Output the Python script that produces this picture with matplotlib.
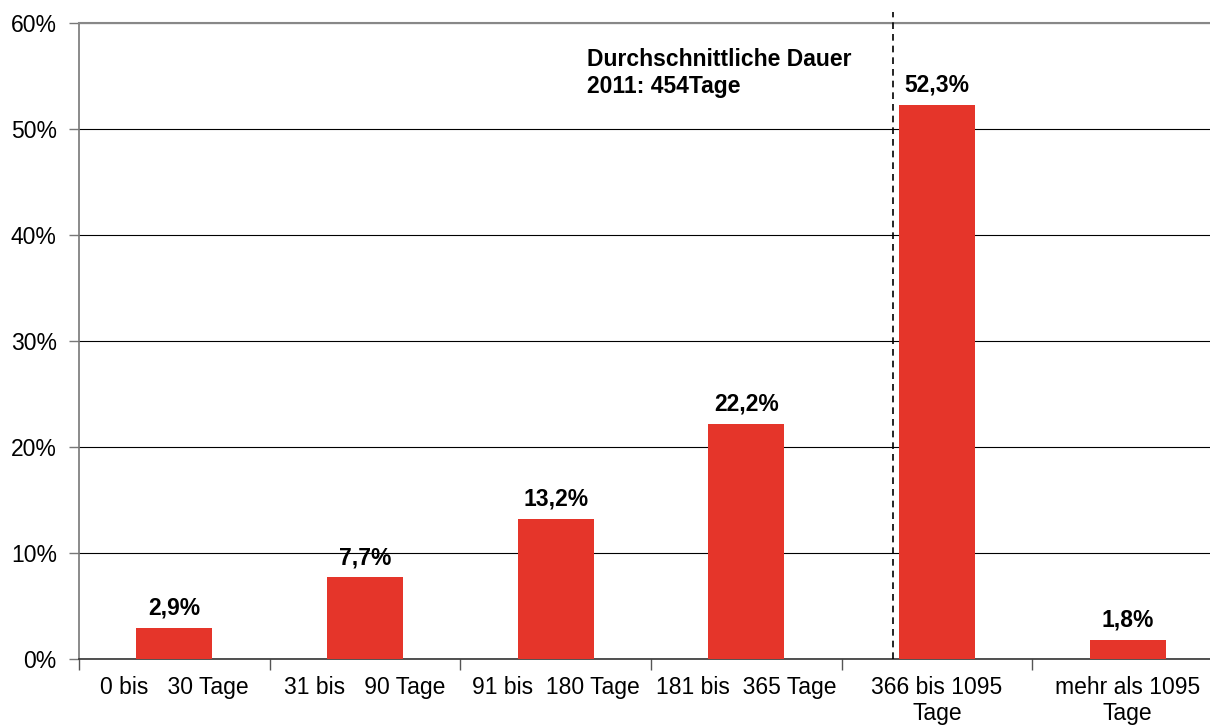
import matplotlib
matplotlib.use("Agg")
import matplotlib.pyplot as plt
from matplotlib.ticker import FixedLocator, NullFormatter

plt.rcParams["font.family"] = ["Liberation Sans", "DejaVu Sans"]

categories = ["0 bis   30 Tage", "31 bis   90 Tage", "91 bis  180 Tage",
              "181 bis  365 Tage", "366 bis 1095\nTage", "mehr als 1095\nTage"]
values = [2.9, 7.7, 13.2, 22.2, 52.3, 1.8]
value_labels = ["2,9%", "7,7%", "13,2%", "22,2%", "52,3%", "1,8%"]
yticks = [0, 10, 20, 30, 40, 50, 60]
avg_pos = 3.77
note = "Durchschnittliche Dauer\n2011: 454Tage"

BAR = "#E5352A"
FS = 16.5
W, H = 1210, 725
fig = plt.figure(figsize=(W / 100, H / 100), dpi=100)
ax = fig.add_axes([79 / W, 1 - 659 / H, 1144 / W, 636 / H])

x = list(range(len(categories)))
ax.bar(x, values, width=0.4, color=BAR, zorder=3)
for xi, v, lab in zip(x, values, value_labels):
    ax.annotate(lab, (xi, v), xytext=(0, 6), textcoords="offset points",
                ha="center", va="bottom", fontsize=FS, fontweight="bold")

ax.set_xlim(-0.5, len(categories) - 0.5)
ax.set_ylim(0, 60)
ax.set_yticks(yticks)
ax.set_yticklabels([f"{t}%" for t in yticks], fontsize=FS)
ax.yaxis.grid(True, color="black", linewidth=0.8, zorder=0)

ax.set_xticks(x)
ax.set_xticklabels(categories, fontsize=FS, linespacing=1.2)
ax.tick_params(axis="x", which="major", length=0, pad=12)
ax.xaxis.set_minor_locator(FixedLocator([i + 0.5 for i in range(-1, len(categories))]))
ax.xaxis.set_minor_formatter(NullFormatter())
ax.tick_params(axis="x", which="minor", length=8, width=1, color="#555555")
ax.tick_params(axis="y", length=7, width=1, color="#777777", pad=9)

ax.spines["right"].set_visible(False)
ax.spines["top"].set_color("#888888")
ax.spines["top"].set_linewidth(1.5)
ax.spines["left"].set_color("#777777")
ax.spines["left"].set_linewidth(1.2)
ax.spines["bottom"].set_color("#333333")
ax.spines["bottom"].set_linewidth(1.2)

ax.plot([avg_pos, avg_pos], [0, 61], color="black", linestyle=(0, (4, 3)),
        linewidth=1.2, clip_on=False, zorder=4)
ax.text(2.165, 57.6, note, ha="left", va="top", fontsize=FS,
        fontweight="bold", linespacing=1.2)

fig.savefig("out.png", dpi=100)
